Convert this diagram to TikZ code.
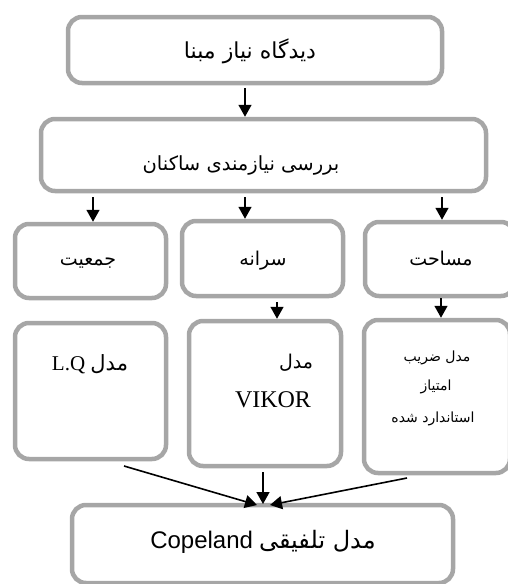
\documentclass[tikz,border=0pt]{standalone}
\usepackage{fontspec}
\setmainfont{Liberation Serif}
\newfontfamily\fa[Script=Arabic]{DejaVu Sans}
\newfontfamily\lsans{Liberation Sans}
\TeXXeTstate=1
\usetikzlibrary{arrows.meta,calc}
\definecolor{boxgray}{HTML}{A6A6A6}
\begin{document}
\begin{tikzpicture}[x=1pt,y=-1pt,
  box/.style={draw=boxgray, line width=4.5pt, rounded corners=14pt, inner sep=0pt},
  arr/.style={draw=black, line width=1.6pt, -{Triangle[width=13pt,length=12pt]}},
  txt/.style={inner sep=0pt, text=black, anchor=base}]
\useasboundingbox (0,0) rectangle (508,584);
% boxes
\node[box, minimum width=374, minimum height=66] (b1) at (255,50) {};
\node[box, minimum width=445, minimum height=72] (b2) at (263.5,155) {};
\node[box, minimum width=151, minimum height=74] (jam) at (90.5,261) {};
\node[box, minimum width=161, minimum height=75] (sar) at (262.5,258.5) {};
\node[box, minimum width=150, minimum height=74] (mas) at (440,259) {};
\node[box, minimum width=151, minimum height=136] (lq) at (90.5,391) {};
\node[box, minimum width=152, minimum height=145] (vik) at (265,393.5) {};
\node[box, minimum width=146, minimum height=153] (masm) at (437,396.5) {};
\node[box, minimum width=381, minimum height=78] (cop) at (262.5,544) {};
% texts
\node[txt, font=\fa\fontsize{22}{25}\selectfont] (t1) at (250,58) {\beginR دیدگاه نیاز مبنا\endR};
\node[txt, font=\fa\fontsize{19.5}{24}\selectfont] (t2) at (241,170) {\beginR بررسی نیازمندی ساکنان\endR};
\node[txt, font=\fa\fontsize{19}{22}\selectfont] (tj) at (88,265) {\beginR جمعیت\endR};
\node[txt, font=\fa\fontsize{19}{22}\selectfont] (ts) at (263,265) {\beginR سرانه\endR};
\node[txt, font=\fa\fontsize{19}{22}\selectfont] (tm) at (441,265) {\beginR مساحت\endR};
\node[txt, font=\fontsize{21}{24}\selectfont] (tlq) at (90,370) {\beginR{\fa مدل} \beginL L.Q\endL\endR};
\node[txt, font=\fa\fontsize{19}{22}\selectfont] (tv1) at (296,368) {\beginR مدل\endR};
\node[txt, font=\fontsize{24}{26}\selectfont] (tv2) at (273,407) {VIKOR};
\node[txt, font=\fa\fontsize{14}{17}\selectfont] (tm1) at (437,361) {\beginR مدل ضریب\endR};
\node[txt, font=\fa\fontsize{14}{17}\selectfont] (tm2) at (436,390) {\beginR امتیاز\endR};
\node[txt, font=\fa\fontsize{14}{17}\selectfont] (tm3) at (433,422) {\beginR استاندارد شده\endR};
\node[txt, font=\fontsize{24}{27}\selectfont] (tc) at (263,548) {\beginR{\fa مدل تلفیقی} \beginL{\lsans Copeland}\endL\endR};
% arrow anchors
\coordinate (a1) at (245,88);
\coordinate (a2) at (93,197);
\coordinate (a3) at (245,197);
\coordinate (a4) at (442,197);
\coordinate (a5) at (277,302);
\coordinate (a6) at (441,298);
\coordinate (c1) at (124,466);
\coordinate (c2) at (263,472);
\coordinate (c3) at (407,478);
\coordinate (m1) at (257,505);
\coordinate (m2) at (263,504);
\coordinate (m3) at (270,505);
% arrows
\draw[arr] (a1) -- (a1 |- b2.north);
\draw[arr] (a2) -- (a2 |- jam.north);
\draw[arr] (a3) -- (a3 |- sar.north);
\draw[arr] (a4) -- (a4 |- mas.north);
\draw[arr] (a5) -- (a5 |- vik.north);
\draw[arr] (a6) -- (a6 |- masm.north);
\draw[arr] (c1) -- (m1);
\draw[arr] (c2) -- (m2);
\draw[arr] (c3) -- (m3);
\end{tikzpicture}
\end{document}
